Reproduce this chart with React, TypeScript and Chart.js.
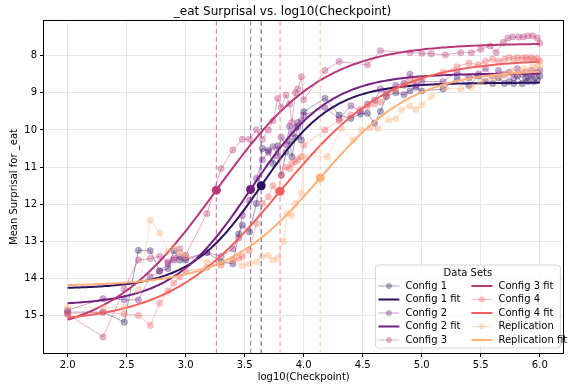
import React, { useEffect, useRef } from "react";
import { Chart, registerables } from "chart.js";

Chart.register(...registerables);

// ---------------- data ----------------
const chartTitle = "_eat Surprisal vs. log10(Checkpoint)";
const xAxisTitle = "log10(Checkpoint)";
const yAxisTitle = "Mean Surprisal for _eat";
const legendTitle = "Data Sets";

const seriesNames = ["Config 1", "Config 2", "Config 3", "Config 4", "Replication"];
const seriesColors = ["#2c115f", "#721f81", "#b73779", "#f1605d", "#feb078"];

const xTicks = [2.0, 2.5, 3.0, 3.5, 4.0, 4.5, 5.0, 5.5, 6.0];
const yTicks = [8, 9, 10, 11, 12, 13, 14, 15];
const xAxisMin = 1.8;
const xAxisMax = 6.2;
const yAxisMin = 7.07;
const yAxisMax = 16.0;

const config1X = [2.0, 2.3, 2.48, 2.6, 2.7, 2.78, 2.85, 2.9, 2.95, 3.0,
  3.18, 3.3, 3.4, 3.45, 3.48, 3.54, 3.6, 3.65, 3.7, 3.74, 3.78, 3.81, 3.85, 3.88, 3.9, 3.93, 3.95, 3.98, 4.0,
  4.18, 4.3, 4.4, 4.48, 4.54, 4.6, 4.65, 4.7, 4.78, 4.85, 4.9, 4.95, 5.0,
  5.18, 5.3, 5.4, 5.48, 5.54, 5.6, 5.65, 5.7, 5.74, 5.78, 5.81, 5.85, 5.88, 5.9, 5.93, 5.95, 5.98, 6.0];
const config1Y = [14.9, 14.9, 15.17, 13.24, 13.25, 13.79, 13.73, 13.25, 13.5, 13.5,
  13.3, 13.55, 13.6, 12.8, 12.56, 12.74, 11.98, 10.5, 10.55, 10.9, 10.43, 11.22, 10.6, 10.3, 10.72, 10.2, 9.9, 10.27, 9.51,
  9.15, 9.6, 9.69, 9.57, 9.55, 9.82, 9.5, 9.1, 9.0, 9.05, 8.95, 8.85, 8.95,
  8.9, 8.6, 8.8, 8.55, 8.7, 8.75, 8.6, 8.75, 8.7, 8.75, 8.55, 8.75, 8.6, 8.7, 8.55, 8.7, 8.65, 8.55];

const config2X = config1X;
const config2Y = [14.85, 14.54, 14.57, 14.57, 13.95, 13.8, 13.6, 13.5, 13.4, 13.45,
  13.3, 13.4, 13.2, 12.9, 12.3, 11.9, 11.3, 10.8, 10.6, 10.45, 10.7, 10.2, 10.4, 9.9, 10.1, 9.95, 9.8, 9.75, 9.6,
  9.4, 9.7, 9.35, 9.5, 9.3, 9.2, 8.9, 9.0, 8.8, 8.75, 8.5, 8.8, 8.7,
  8.7, 8.45, 8.6, 8.5, 8.35, 8.55, 8.4, 8.5, 8.45, 8.6, 8.35, 8.5, 8.45, 8.55, 8.4, 8.5, 8.45, 8.4];

const config3X = [2.0, 2.3, 2.48, 2.6, 2.7, 2.78, 2.85, 2.9, 2.95, 3.0,
  3.18, 3.3, 3.4, 3.48, 3.54, 3.6, 3.65, 3.7, 3.74, 3.78, 3.81, 3.85, 3.88, 3.9, 3.93, 3.95, 3.98, 4.0,
  4.18, 4.3, 4.54, 4.65, 4.9, 5.0, 5.08, 5.2, 5.33, 5.42, 5.5, 5.58, 5.63, 5.69, 5.73, 5.77, 5.82, 5.86, 5.9, 5.94, 5.98, 6.0];
const config3Y = [14.95, 15.57, 14.27, 13.5, 13.46, 13.4, 13.55, 13.45, 13.2, 13.37,
  12.25, 11.04, 10.54, 10.25, 10.25, 10.0, 10.25, 10.0, 9.75, 9.15, 9.4, 9.06, 9.3, 9.8, 9.0, 8.9, 8.57, 9.19,
  8.4, 8.16, 8.25, 7.87, 7.92, 7.94, 7.95, 7.98, 7.92, 7.92, 7.83, 7.74, 7.92, 7.65, 7.53, 7.5, 7.5, 7.5, 7.47, 7.47, 7.53, 7.67];

const config4X = config1X;
const config4Y = [14.95, 14.9, 14.95, 14.99, 15.26, 14.66, 14.33, 14.12, 13.95, 13.8,
  13.7, 13.64, 13.5, 13.45, 13.4, 13.24, 12.52, 11.98, 11.8, 11.5, 11.67, 11.22, 11.0, 11.04, 10.9, 10.85, 10.8, 10.72, 10.41,
  10.0, 9.75, 9.6, 9.45, 9.37, 9.3, 9.25, 9.1, 8.9, 8.8, 8.7, 8.65, 8.6,
  8.45, 8.3, 8.2, 8.25, 8.15, 8.1, 8.15, 8.1, 8.05, 8.1, 8.05, 8.08, 8.05, 8.1, 8.05, 8.1, 8.08, 8.15];

const replicationX = [2.0, 2.3, 2.48, 2.6, 2.7, 2.78, 2.85, 2.9, 2.95, 3.0,
  3.18, 3.3, 3.4, 3.48, 3.54, 3.6, 3.65, 3.7, 3.74, 3.78, 3.83, 3.86, 3.9, 3.93, 3.98, 4.0,
  4.2, 4.32, 4.42, 4.49, 4.56, 4.63, 4.72, 4.78, 4.83, 4.9, 4.95, 5.0,
  5.08, 5.2, 5.33, 5.42, 5.5, 5.58, 5.63, 5.69, 5.73, 5.77, 5.82, 5.86, 5.9, 5.94, 5.98, 6.0];
const replicationY = [14.77, 14.77, 14.77, 14.3, 12.43, 12.77, 13.28, 13.15, 13.3, 13.4,
  13.55, 13.6, 13.5, 13.65, 13.6, 13.55, 13.4, 13.37, 13.5, 13.45, 13.0, 12.25, 12.3, 11.98, 11.7, 10.72,
  10.72, 9.96, 10.27, 10.0, 9.95, 9.96, 9.73, 9.7, 9.46, 9.35, 9.45, 9.33,
  9.1, 8.88, 8.9, 8.85, 8.7, 8.6, 8.6, 8.55, 8.5, 8.4, 8.45, 8.35, 8.4, 8.3, 8.3, 8.28];

// sigmoid fit parameters (per series)
const fitMidpoints = [3.64, 3.55, 3.26, 3.80, 4.14];
const fitLowPlateau = [14.27, 14.72, 15.57, 15.2, 14.2];
const fitHighPlateau = [8.73, 8.48, 7.67, 8.1, 8.38];
const fitSlopes = [3.3, 3.0, 2.2, 2.13, 2.5];
const fitRange = [2.0, 6.0];

const seriesX = [config1X, config2X, config3X, config4X, replicationX];
const seriesY = [config1Y, config2Y, config3Y, config4Y, replicationY];

// ---------------- helpers ----------------
function rgba(hex: string, a: number) {
  const n = parseInt(hex.slice(1), 16);
  return `rgba(${(n >> 16) & 255},${(n >> 8) & 255},${n & 255},${a})`;
}

function fitValue(i: number, x: number) {
  return fitHighPlateau[i] + (fitLowPlateau[i] - fitHighPlateau[i]) / (1 + Math.exp(fitSlopes[i] * (x - fitMidpoints[i])));
}

const FONT = "'DejaVu Sans', 'Liberation Sans', sans-serif";
const DATA_ALPHA = 0.36;
const LINE_ALPHA = 0.4;

const framePlugin = {
  id: "frame",
  afterDatasetsDraw(chart: any) {
    const { ctx, chartArea } = chart;
    const l = Math.round(chartArea.left) - 0.5;
    const t = Math.round(chartArea.top) - 0.5;
    const r = Math.round(chartArea.right) + 0.5;
    const b = Math.round(chartArea.bottom) + 0.5;
    ctx.save();
    ctx.strokeStyle = "#000";
    ctx.lineWidth = 1;
    ctx.strokeRect(l, t, r - l, b - t);
    ctx.restore();
  },
};

const legendPlugin = {
  id: "customLegend",
  afterDraw(chart: any) {
    const { ctx, chartArea } = chart;
    const boxW = 185;
    const boxH = 83;
    const right = chartArea.right - 3;
    const bottom = chartArea.bottom - 5;
    const left = right - boxW;
    const top = bottom - boxH;
    ctx.save();
    const rad = 3;
    ctx.beginPath();
    ctx.moveTo(left + rad, top);
    ctx.lineTo(right - rad, top);
    ctx.quadraticCurveTo(right, top, right, top + rad);
    ctx.lineTo(right, bottom - rad);
    ctx.quadraticCurveTo(right, bottom, right - rad, bottom);
    ctx.lineTo(left + rad, bottom);
    ctx.quadraticCurveTo(left, bottom, left, bottom - rad);
    ctx.lineTo(left, top + rad);
    ctx.quadraticCurveTo(left, top, left + rad, top);
    ctx.closePath();
    ctx.fillStyle = "rgba(255,255,255,0.8)";
    ctx.fill();
    ctx.strokeStyle = "rgba(204,204,204,0.8)";
    ctx.lineWidth = 1;
    ctx.stroke();

    ctx.font = `10px ${FONT}`;
    ctx.fillStyle = "#000";
    ctx.textBaseline = "middle";
    ctx.textAlign = "center";
    ctx.fillText(legendTitle, left + boxW / 2, top + 8);

    const items: { label: string; color: string; fit: boolean }[] = [];
    seriesNames.forEach((name, i) => {
      items.push({ label: name, color: seriesColors[i], fit: false });
      items.push({ label: name + " fit", color: seriesColors[i], fit: true });
    });
    const rows = 5;
    const colX = [left + 3, left + 96];
    ctx.textAlign = "left";
    items.forEach((it, k) => {
      const col = Math.floor(k / rows);
      const row = k % rows;
      const x0 = colX[col];
      const y = top + 21 + row * 13.5;
      if (it.fit) {
        ctx.strokeStyle = it.color;
        ctx.lineWidth = 2;
        ctx.beginPath();
        ctx.moveTo(x0, y);
        ctx.lineTo(x0 + 21, y);
        ctx.stroke();
      } else {
        ctx.strokeStyle = rgba(it.color, LINE_ALPHA);
        ctx.lineWidth = 1;
        ctx.beginPath();
        ctx.moveTo(x0, y);
        ctx.lineTo(x0 + 21, y);
        ctx.stroke();
        ctx.fillStyle = rgba(it.color, DATA_ALPHA);
        ctx.beginPath();
        ctx.arc(x0 + 10.5, y, 3, 0, Math.PI * 2);
        ctx.fill();
      }
      ctx.fillStyle = "#000";
      ctx.fillText(it.label, x0 + 27, y);
    });
    ctx.restore();
  },
};

export default function App() {
  const canvasRef = useRef<HTMLCanvasElement>(null);

  useEffect(() => {
    const canvas = canvasRef.current;
    if (!canvas) return;
    Chart.defaults.font.family = FONT;
    Chart.defaults.color = "#000";

    const fitXs: number[] = [];
    const nFit = 200;
    for (let k = 0; k < nFit; k++) fitXs.push(fitRange[0] + ((fitRange[1] - fitRange[0]) * k) / (nFit - 1));

    const datasets: any[] = [];
    let seq = 0;
    seriesNames.forEach((name, i) => {
      const c = seriesColors[i];
      datasets.push({
        label: name,
        data: seriesX[i].map((x, j) => ({ x, y: seriesY[i][j] })),
        borderColor: rgba(c, LINE_ALPHA),
        backgroundColor: rgba(c, DATA_ALPHA),
        pointBackgroundColor: rgba(c, DATA_ALPHA),
        pointBorderColor: rgba(c, DATA_ALPHA),
        pointRadius: 3.2,
        pointBorderWidth: 0.6,
        borderWidth: 1,
        tension: 0,
        order: 1000 - seq++,
      });
      datasets.push({
        label: name + " fit",
        data: fitXs.map((x) => ({ x, y: fitValue(i, x) })),
        borderColor: c,
        backgroundColor: c,
        borderWidth: 2,
        pointRadius: 0,
        tension: 0,
        order: 1000 - seq++,
      });
      datasets.push({
        label: name + " midpoint",
        data: [{ x: fitMidpoints[i], y: fitValue(i, fitMidpoints[i]) }],
        showLine: false,
        pointRadius: 4.5,
        pointBorderWidth: 0,
        pointBackgroundColor: c,
        pointBorderColor: c,
        order: 1000 - seq++,
      });
      datasets.push({
        label: name + " inflection",
        data: [
          { x: fitMidpoints[i], y: yAxisMin },
          { x: fitMidpoints[i], y: yAxisMax },
        ],
        borderColor: rgba(c, 0.6),
        borderDash: [5, 3],
        borderWidth: 1.2,
        pointRadius: 0,
        order: 1000 - seq++,
      });
    });

    const chart = new Chart(canvas, {
      type: "line",
      data: { datasets },
      plugins: [framePlugin, legendPlugin],
      options: {
        responsive: false,
        animation: false,
        events: [],
        layout: { padding: { top: 0, right: 3, bottom: 0, left: 0 } },
        plugins: {
          legend: { display: false },
          tooltip: { enabled: false },
          title: {
            display: true,
            text: chartTitle,
            color: "#000",
            font: { size: 12, weight: "normal", family: FONT },
            padding: { top: 5, bottom: 1.6 },
          },
        },
        scales: {
          x: {
            type: "linear",
            min: xAxisMin,
            max: xAxisMax,
            afterBuildTicks: (axis: any) => {
              axis.ticks = xTicks.map((v) => ({ value: v }));
            },
            afterFit: (axis: any) => {
              axis.height = 35;
            },
            ticks: {
              autoSkip: false,
              maxRotation: 0,
              padding: 2,
              color: "#000",
              font: { size: 10, family: FONT },
              callback: (v: any) => Number(v).toFixed(1),
            },
            grid: { color: "#e6e6e6", lineWidth: 1, tickColor: "#000", tickLength: 4, tickWidth: 1 },
            border: { display: false },
            title: {
              display: true,
              text: xAxisTitle,
              color: "#000",
              font: { size: 10, family: FONT },
              padding: { top: 0, bottom: 4.3 },
            },
          },
          y: {
            type: "linear",
            reverse: true,
            min: yAxisMin,
            max: yAxisMax,
            afterBuildTicks: (axis: any) => {
              axis.ticks = yTicks.map((v) => ({ value: v }));
            },
            afterFit: (axis: any) => {
              axis.width = 44;
            },
            ticks: {
              autoSkip: false,
              padding: 3,
              color: "#000",
              font: { size: 10, family: FONT },
              callback: (v: any) => String(v),
            },
            grid: { color: "#e6e6e6", lineWidth: 1, tickColor: "#000", tickLength: 4, tickWidth: 1 },
            border: { display: false },
            title: {
              display: true,
              text: yAxisTitle,
              color: "#000",
              font: { size: 10, family: FONT },
              padding: { top: 8, bottom: 0 },
            },
          },
        },
      } as any,
    });

    return () => {
      chart.destroy();
    };
  }, []);

  return (
    <div style={{ position: "fixed", left: 0, top: 0, width: 568, height: 388, background: "#fff" }}>
      <canvas ref={canvasRef} width={568} height={388} style={{ width: 568, height: 388, display: "block" }} />
    </div>
  );
}
